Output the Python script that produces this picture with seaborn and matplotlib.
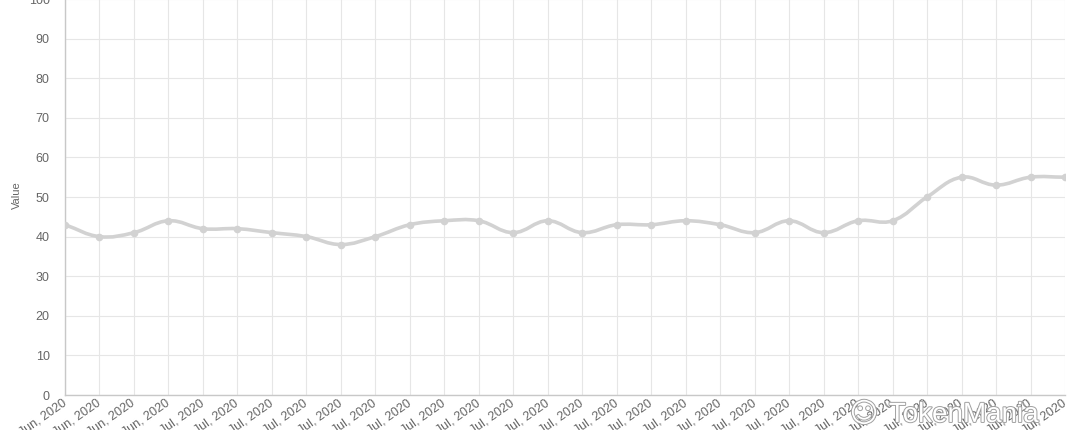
import seaborn as sns
import matplotlib.pyplot as plt
import matplotlib.patheffects as pe
from matplotlib.path import Path
from matplotlib.patches import PathPatch
import numpy as np
import pandas as pd

# data
labels = ['Jun, 2020'] * 4 + ['Jul, 2020'] * 26
values = [43, 40, 41, 44, 42, 42, 41, 40, 38, 40,
          43, 44, 44, 41, 44, 41, 43, 43, 44, 43,
          41, 44, 41, 44, 44, 50, 55, 53, 55, 55]
yticks = [0, 10, 20, 30, 40, 50, 60, 70, 80, 90, 100]

df = pd.DataFrame({'idx': np.arange(len(values)), 'value': values})

sns.set_style('white')
plt.rcParams['font.family'] = ['Liberation Sans', 'DejaVu Sans']

fig = plt.figure(figsize=(10.8, 4.3), dpi=100)
ax = fig.add_axes([65 / 1080, 35 / 430, 1000 / 1080, 396 / 430])

line_col = '#d2d2d2'

# smooth curve like chart.js (tension 0.4), control points worked out in pixel space
n = len(values)
sx = 1000 / (n - 1)
sy = 396 / 100
px = df['idx'].values * sx
py = np.array(values, dtype=float) * sy
t = 0.4
cp_in, cp_out = [], []
for i in range(n):
    p0 = np.array([px[max(i - 1, 0)], py[max(i - 1, 0)]])
    p1 = np.array([px[i], py[i]])
    p2 = np.array([px[min(i + 1, n - 1)], py[min(i + 1, n - 1)]])
    d01 = np.hypot(*(p1 - p0))
    d12 = np.hypot(*(p2 - p1))
    s01 = d01 / (d01 + d12) if d01 + d12 else 0
    s12 = d12 / (d01 + d12) if d01 + d12 else 0
    cp_in.append(p1 - t * s01 * (p2 - p0))
    cp_out.append(p1 + t * s12 * (p2 - p0))
verts = [(px[0] / sx, py[0] / sy)]
codes = [Path.MOVETO]
for i in range(n - 1):
    verts += [tuple(cp_out[i] / [sx, sy]), tuple(cp_in[i + 1] / [sx, sy]),
              (px[i + 1] / sx, py[i + 1] / sy)]
    codes += [Path.CURVE4] * 3
ax.add_patch(PathPatch(Path(verts, codes), fill=False, edgecolor=line_col,
                       lw=2.6, zorder=3, capstyle='round', joinstyle='round'))

sns.scatterplot(data=df, x='idx', y='value', ax=ax, color=line_col, s=30,
                edgecolor=line_col, linewidth=0, zorder=4, legend=False)

ax.set_xlim(0, n - 1)
ax.set_ylim(0, 100)
ax.set_yticks(yticks)
ax.set_xticks(df['idx'])
ax.set_xticklabels(labels, rotation=35, ha='right', va='center',
                   rotation_mode='anchor')
ax.tick_params(axis='both', colors='#d9d9d9', labelcolor='#666666',
               labelsize=9, width=0.8)
ax.tick_params(axis='y', length=9, pad=2)
ax.tick_params(axis='x', length=3, pad=2)
ax.grid(True, color='#e6e6e6', lw=0.8)
ax.set_axisbelow(True)
ax.set_xlabel('')
ax.set_ylabel('Value', color='#666666', fontsize=8)
ax.yaxis.set_label_coords(-0.043, 0.505)
for s in ['top', 'right']:
    ax.spines[s].set_visible(False)
for s in ['left', 'bottom']:
    ax.spines[s].set_color('#c8c8c8')
    ax.spines[s].set_linewidth(1)

# watermark
wm = [pe.withStroke(linewidth=1.4, foreground='#a0a0a0')]
fig.text(0.800, 0.037, '\u263a', fontsize=20, color='white', ha='center',
         va='center', zorder=10, path_effects=wm, family=['DejaVu Sans'])
fig.text(0.823, 0.035, 'TokenMania', fontsize=20, color='white',
         ha='left', va='center', zorder=10, path_effects=wm)

fig.savefig('out.png', dpi=100)
